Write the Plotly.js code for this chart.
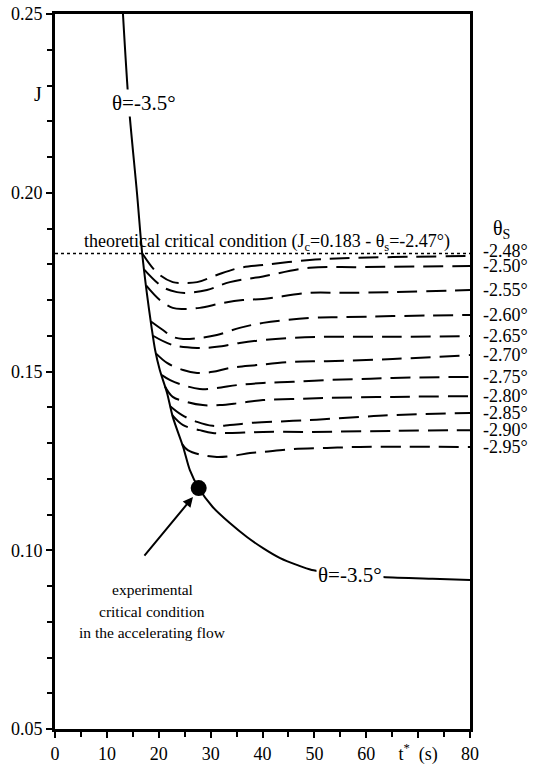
<!DOCTYPE html>
<html>
<head>
<meta charset="utf-8">
<script src="https://cdn.plot.ly/plotly-3.0.1.min.js"></script>
<style>
  html, body { margin: 0; padding: 0; background: #fff; }
  #chart { width: 533px; height: 770px; }
</style>
</head>
<body>
<div id="chart"></div>
<script>
// Main trajectory for theta = -3.5 deg
const mainT = [13.1, 14.2, 15.8, 16.8, 17.7, 18.6, 19.3, 20.2, 21.6, 22.7, 24.7, 26.0, 27.7,
               30.4, 33.7, 37.0, 40.1, 43.4, 46.6, 49.5, 56.8, 63.2, 72.8, 80];
const mainJ = [0.250, 0.225, 0.200, 0.1831, 0.1720, 0.1625, 0.1560, 0.1504, 0.1440, 0.1373, 0.1289, 0.1224, 0.1174,
               0.1121, 0.1076, 0.1037, 0.1006, 0.0978, 0.0959, 0.0945, 0.0933, 0.0925, 0.0920, 0.0917];

// Experimental critical condition in the accelerating flow
const expT = [27.7];
const expJ = [0.1174];

// Theoretical critical condition
const jCritical = 0.183;
const critT = [0, 80];

// Branches for each final slope theta_s
const thetaS = ['-2.48°', '-2.50°', '-2.55°', '-2.60°', '-2.65°', '-2.70°',
                '-2.75°', '-2.80°', '-2.85°', '-2.90°', '-2.95°'];
const branchT = [
  [16.8, 19.7, 22.7, 24.7, 27.4, 31.2, 35.6, 40.1, 49.1, 55.5, 65.1, 80],
  [17.2, 20.8, 23.5, 25.4, 29.3, 33.7, 40.1, 49.1, 58.8, 80],
  [17.6, 20.2, 22.7, 24.7, 27.9, 32.4, 36.2, 40.1, 49.1, 55.5, 65.1, 80],
  [18.5, 20.8, 22.7, 24.7, 27.9, 31.2, 35.6, 40.1, 49.1, 55.5, 65.1, 80],
  [18.9, 22.7, 27.4, 31.2, 35.6, 40.1, 45.9, 52.4, 65.1, 80],
  [19.5, 21.6, 24.7, 27.4, 30.4, 33.7, 38.9, 45.9, 52.4, 65.1, 80],
  [20.6, 22.2, 24.7, 27.9, 31.2, 35.1, 40.1, 45.9, 52.4, 58.8, 65.1, 80],
  [21.2, 22.7, 25.4, 28.5, 31.8, 35.6, 40.1, 45.9, 52.4, 65.1, 80],
  [22.2, 24.5, 27.4, 30.4, 33.7, 37.6, 45.9, 52.4, 58.8, 65.1, 80],
  [22.6, 24.7, 27.9, 30.4, 33.7, 40.1, 49.1, 65.1, 80],
  [24.5, 25.6, 28.5, 31.2, 34.3, 37.6, 40.1, 45.9, 52.4, 58.8, 80]
];
const branchJ = [
  [0.1831, 0.1776, 0.1750, 0.1748, 0.1750, 0.1770, 0.1790, 0.1798, 0.1812, 0.1817, 0.1820, 0.1823],
  [0.1785, 0.1736, 0.1722, 0.1720, 0.1728, 0.1750, 0.1766, 0.1790, 0.1792, 0.1795],
  [0.1740, 0.1700, 0.1678, 0.1675, 0.1678, 0.1692, 0.1700, 0.1703, 0.1720, 0.1720, 0.1722, 0.1728],
  [0.1640, 0.1616, 0.1597, 0.1591, 0.1594, 0.1602, 0.1622, 0.1636, 0.1650, 0.1652, 0.1655, 0.1658],
  [0.1600, 0.1574, 0.1566, 0.1569, 0.1580, 0.1588, 0.1594, 0.1597, 0.1597, 0.1599],
  [0.1550, 0.1524, 0.1504, 0.1496, 0.1499, 0.1510, 0.1518, 0.1527, 0.1529, 0.1535, 0.1546],
  [0.1490, 0.1476, 0.1462, 0.1451, 0.1454, 0.1462, 0.1468, 0.1471, 0.1476, 0.1479, 0.1482, 0.1485],
  [0.1458, 0.1429, 0.1415, 0.1406, 0.1406, 0.1412, 0.1420, 0.1423, 0.1426, 0.1429, 0.1431],
  [0.1403, 0.1378, 0.1359, 0.1348, 0.1350, 0.1356, 0.1362, 0.1367, 0.1373, 0.1378, 0.1384],
  [0.1378, 0.1350, 0.1336, 0.1328, 0.1328, 0.1331, 0.1331, 0.1334, 0.1336],
  [0.1297, 0.1280, 0.1266, 0.1261, 0.1264, 0.1272, 0.1275, 0.1283, 0.1286, 0.1289, 0.1289]
];

// Caption lines for the experimental point
const expCaption = ['experimental', 'critical condition', 'in the accelerating flow'];

// Axis ticks
const xTickVals = [0, 10, 20, 30, 40, 50, 60, 70, 80];
const xTickText = ['0', '10', '20', '30', '40', '50', '60', 't<sup>*</sup>  (s)', '80'];
const xMinorVals = [5, 15, 25, 35, 45, 55, 65, 75];

const FONT = 'Liberation Serif';

const traces = [];

branchT.forEach((t, i) => {
  traces.push({
    x: t, y: branchJ[i], type: 'scatter', mode: 'lines',
    line: { color: '#000', width: 2, dash: '20px,9px', shape: 'spline', smoothing: 1 },
    hoverinfo: 'skip', showlegend: false
  });
});

traces.push({
  x: critT, y: [jCritical, jCritical], type: 'scatter', mode: 'lines',
  line: { color: '#000', width: 1.5, dash: 'dot' },
  hoverinfo: 'skip', showlegend: false
});

traces.push({
  x: mainT, y: mainJ, type: 'scatter', mode: 'lines',
  line: { color: '#000', width: 2, shape: 'spline', smoothing: 0.8 },
  hoverinfo: 'skip', showlegend: false
});

traces.push({
  x: expT, y: expJ, type: 'scatter', mode: 'markers',
  marker: { color: '#000', size: 16 },
  hoverinfo: 'skip', showlegend: false
});

const annotations = [
  { x: 17.1, y: 0.2251, xref: 'x', yref: 'y', text: 'θ=-3.5°', showarrow: false,
    font: { family: FONT, size: 21, color: '#000' }, bgcolor: '#fff', borderpad: 1 },
  { x: 56.8, y: 0.0932, xref: 'x', yref: 'y', text: 'θ=-3.5°', showarrow: false,
    font: { family: FONT, size: 21, color: '#000' }, bgcolor: '#fff', borderpad: 1 },
  { x: 40.9, y: jCritical, xref: 'x', yref: 'y', yanchor: 'bottom', yshift: -2,
    text: 'theoretical critical condition (J<sub>c</sub>=0.183 - θ<sub>s</sub>=-2.47°)',
    showarrow: false, font: { family: FONT, size: 18, color: '#000' } },
  { x: 26.6, y: 0.1149, xref: 'x', yref: 'y', ax: 17.0, ay: 0.0981, axref: 'x', ayref: 'y',
    text: '', showarrow: true, arrowhead: 2, arrowsize: 1, arrowwidth: 2, arrowcolor: '#000' },
  { x: -0.055, y: 0.2275, xref: 'paper', yref: 'y', text: 'J', showarrow: false,
    font: { family: FONT, size: 20, color: '#000' } },
  { x: 80, y: 0.1898, xref: 'x', yref: 'y', xanchor: 'left', xshift: 21, text: 'θ<sub>S</sub>',
    showarrow: false, font: { family: FONT, size: 20, color: '#000' } }
];

// Caption below the experimental point, one line per annotation for tighter control of spacing
expCaption.forEach((line, i) => {
  annotations.push({
    x: 18.7, y: 0.0889, xref: 'x', yref: 'y', yshift: -21.5 * i, text: line, showarrow: false,
    font: { family: FONT, size: 15.5, color: '#000' }
  });
});

thetaS.forEach((label, i) => {
  const jEnd = branchJ[i][branchJ[i].length - 1];
  annotations.push({
    x: 80, y: jEnd, xref: 'x', yref: 'y', xanchor: 'left', xshift: 11,
    yshift: i === 0 ? 5 : 0,
    text: label, showarrow: false, font: { family: FONT, size: 18, color: '#000' }
  });
});

const layout = {
  width: 533, height: 770,
  margin: { l: 55, r: 63, t: 14, b: 41 },
  paper_bgcolor: '#fff', plot_bgcolor: '#fff',
  font: { family: FONT, size: 18, color: '#000' },
  showlegend: false,
  xaxis: {
    range: [0, 80], tickmode: 'array', tickvals: xTickVals, ticktext: xTickText,
    ticks: 'outside', ticklen: 6, tickwidth: 2, tickcolor: '#000',
    minor: { tickmode: 'array', tickvals: xMinorVals, ticks: 'outside', ticklen: 5, tickwidth: 2, tickcolor: '#000' },
    showline: true, linewidth: 3, linecolor: '#000', mirror: true,
    showgrid: false, zeroline: false,
    tickfont: { family: FONT, size: 18, color: '#000' }
  },
  yaxis: {
    range: [0.05, 0.25], tickmode: 'linear', tick0: 0.05, dtick: 0.05, tickformat: '.2f',
    ticks: 'outside', ticklen: 6, tickwidth: 2, tickcolor: '#000',
    minor: { dtick: 0.01, ticks: 'outside', ticklen: 5, tickwidth: 2, tickcolor: '#000' },
    showline: true, linewidth: 3, linecolor: '#000', mirror: true,
    showgrid: false, zeroline: false,
    tickfont: { family: FONT, size: 18, color: '#000' }
  },
  annotations: annotations
};

Plotly.newPlot('chart', traces, layout, { staticPlot: true, displayModeBar: false });
</script>
</body>
</html>
